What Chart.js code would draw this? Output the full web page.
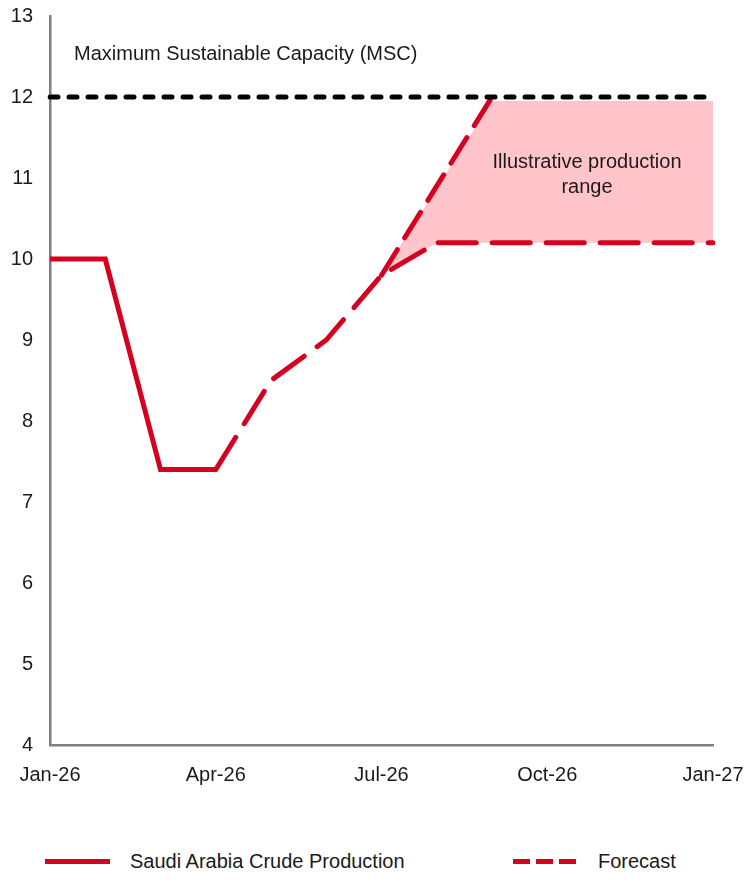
<!DOCTYPE html>
<html>
<head>
<meta charset="utf-8">
<script src="https://cdn.jsdelivr.net/npm/chart.js@4/dist/chart.umd.min.js"></script>
<style>
  body { margin: 0; background: #fff; }
  #wrap { position: relative; width: 749px; height: 887px; font-family: "Liberation Sans", Arial, sans-serif; color: #1a1a1a; }
  #box { position: absolute; left: 0; top: 0; width: 749px; height: 800px; }
  .leg { position: absolute; top: 848px; font-size: 20px; line-height: 26px; display: flex; align-items: center; }
  .solid { width: 65px; height: 5px; background: #d50020; margin-right: 20px; }
  .dash { display: flex; gap: 6px; margin-right: 22px; }
  .dash span { width: 17px; height: 5px; background: #d50020; display: block; }
</style>
</head>
<body>
<div id="wrap">
  <div id="box"><canvas id="chart"></canvas></div>
  <div class="leg" style="left:45px"><div class="solid"></div>Saudi Arabia Crude Production</div>
  <div class="leg" style="left:513px"><div class="dash"><span></span><span></span><span></span></div>Forecast</div>
</div>
<script>
// mjeseci na x osi
const mjeseci = ['Jan-26','Feb-26','Mar-26','Apr-26','May-26','Jun-26','Jul-26','Aug-26','Sep-26','Oct-26','Nov-26','Dec-26','Jan-27'];
const oznakeX = ['Jan-26','Apr-26','Jul-26','Oct-26','Jan-27'];

// vrijednosti (mb/d)
const proizvodnja = [10, 10, 7.4, 7.4, null, null, null, null, null, null, null, null, null];
const prognoza = [null, null, null, 7.4, 8.5, 9.0, 9.8, 10.2, 10.2, 10.2, 10.2, 10.2, 10.2];
const prognozaGornja = [null, null, null, null, null, null, 9.8, null, 12, null, null, null, null];
const rasponVrh = [null, null, null, null, null, null, 9.8, null, 11.95, 11.95, 11.95, 11.95, 11.95];
const msc = [12, 12, 12, 12, 12, 12, 12, 12, 12, 12, 12, 12, 12];

const crvena = '#d50020';
const font = { family: '"Liberation Sans", Arial, sans-serif', size: 20 };

// tekstovi unutar grafa
const tekstovi = {
    id: 'tekstovi',
    afterDatasetsDraw(chart) {
        const { ctx, chartArea, scales } = chart;
        ctx.save();
        ctx.fillStyle = '#1a1a1a';
        ctx.font = '20px "Liberation Sans", Arial, sans-serif';
        ctx.textBaseline = 'middle';
        ctx.textAlign = 'left';
        ctx.fillText('Maximum Sustainable Capacity (MSC)', chartArea.left + 24, scales.y.getPixelForValue(12.52));
        ctx.textAlign = 'center';
        const xr = scales.x.getPixelForValue(9.72);
        ctx.fillText('Illustrative production', xr, scales.y.getPixelForValue(11.19));
        ctx.fillText('range', xr, scales.y.getPixelForValue(10.88));
        ctx.restore();
    }
};

new Chart(document.getElementById('chart'), {
    type: 'line',
    data: {
        labels: mjeseci,
        datasets: [
            {
                label: 'MSC',
                data: msc,
                borderColor: '#000',
                borderWidth: 5,
                borderDash: [8, 11],
                borderCapStyle: 'round',
                pointRadius: 0
            },
            {
                label: 'Saudi Arabia Crude Production',
                data: proizvodnja,
                borderColor: crvena,
                borderWidth: 5,
                pointRadius: 0
            },
            {
                label: 'Forecast',
                data: prognoza,
                borderColor: crvena,
                borderWidth: 5,
                borderDash: [38, 16],
                borderCapStyle: 'round',
                pointRadius: 0
            },
            {
                label: 'Forecast high',
                data: prognozaGornja,
                borderColor: crvena,
                borderWidth: 5,
                borderDash: [30, 14],
                borderCapStyle: 'round',
                spanGaps: true,
                pointRadius: 0
            },
            {
                label: 'Illustrative production range',
                data: rasponVrh,
                borderWidth: 0,
                borderColor: 'rgba(0,0,0,0)',
                backgroundColor: '#ffc5ca',
                fill: 2,
                spanGaps: true,
                pointRadius: 0
            }
        ]
    },
    options: {
        responsive: true,
        maintainAspectRatio: false,
        animation: false,
        layout: { padding: { top: 16, right: 36, left: 0, bottom: 0 } },
        plugins: {
            legend: { display: false },
            tooltip: { enabled: false }
        },
        scales: {
            x: {
                grid: { display: true, drawOnChartArea: false, drawTicks: true, tickLength: 18, tickColor: 'rgba(0,0,0,0)' },
                border: { color: '#7f7f7f', width: 2.5 },
                afterFit: (s) => { s.height = 55; },
                ticks: {
                    autoSkip: false,
                    maxRotation: 0,
                    padding: 0,
                    color: '#1a1a1a',
                    font: font,
                    callback: (v, i) => oznakeX.includes(mjeseci[i]) ? mjeseci[i] : ''
                }
            },
            y: {
                min: 4,
                max: 13,
                grid: { display: true, drawOnChartArea: false, drawTicks: true, tickLength: 17, tickColor: 'rgba(0,0,0,0)' },
                border: { color: '#7f7f7f', width: 2.5 },
                afterFit: (s) => { s.width = 50; },
                ticks: {
                    stepSize: 1,
                    padding: 0,
                    color: '#1a1a1a',
                    font: font
                }
            }
        }
    },
    plugins: [tekstovi]
});
</script>
</body>
</html>
